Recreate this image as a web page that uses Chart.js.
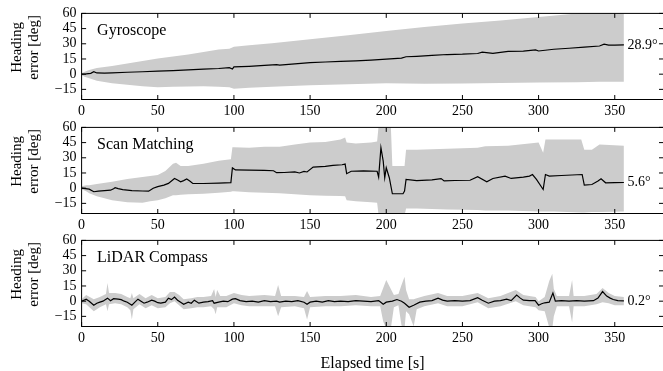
<!DOCTYPE html>
<html>
<head>
<meta charset="utf-8">
<script src="https://cdn.jsdelivr.net/npm/chart.js@4.4.1/dist/chart.umd.min.js"></script>
<style>
  body { margin: 0; background: #fff; width: 663px; height: 371px; overflow: hidden; position: relative; }
  .panel { position: absolute; left: 0; }
</style>
</head>
<body>
<div class="panel" style="top:0px"><canvas id="p0" width="668" height="120"></canvas></div>
<div class="panel" style="top:113.7px"><canvas id="p1" width="668" height="120"></canvas></div>
<div class="panel" style="top:227px"><canvas id="p2" width="668" height="148"></canvas></div>
<script>
// axes
const xTicks = [0, 50, 100, 150, 200, 250, 300, 350];
const yTicks = [-15, 0, 15, 30, 45, 60];
const panelNames = ['Gyroscope', 'Scan Matching', 'LiDAR Compass'];
const endLabels = ['28.9°', '5.6°', '0.2°'];

// Gyroscope
const gyroT = [0, 3, 6, 8, 10, 15, 20, 30, 40, 50, 60, 70, 80, 90, 97, 99, 100, 110, 120, 128, 130, 140, 150, 160, 170, 180, 190, 200, 210, 213, 220, 230, 240, 250, 260, 263, 270, 280, 290, 298, 300, 310, 320, 330, 340, 343, 346, 350, 356];
const gyroMean = [0, 0.3, 0.8, 2.5, 1.2, 1.0, 1.3, 1.9, 2.4, 3.0, 3.5, 4.2, 4.9, 5.6, 6.4, 5.0, 7.2, 7.8, 8.6, 9.5, 8.9, 10.2, 11.5, 12.0, 12.6, 13.2, 13.9, 14.8, 15.8, 17.2, 17.6, 18.5, 19.4, 19.7, 20.4, 21.8, 20.6, 22.5, 22.8, 23.9, 22.9, 24.6, 25.6, 26.8, 27.8, 29.6, 28.6, 28.7, 28.9];
const gyroBandT = [0, 2, 5, 10, 20, 30, 40, 50, 60, 70, 80, 90, 97, 100, 110, 125, 150, 175, 200, 225, 250, 275, 300, 325, 340, 356];
const gyroHi = [1, 2.5, 4, 6, 8, 10.5, 13, 15.4, 17.5, 19.5, 22, 24.3, 25, 27, 28.5, 30.5, 34.5, 38.5, 42.6, 46.5, 50, 53, 56.5, 60, 62, 63];
const gyroLo = [-1, -2.5, -4, -6.5, -9, -10.5, -12, -13, -12.5, -12.2, -11.8, -12.5, -13, -14.5, -13.5, -12.5, -11, -10, -9, -9.5, -9.3, -8.8, -8.3, -8, -7.6, -7.5];

// Scan matching
const scanT = [0, 5, 8, 11, 15, 19, 21, 22, 24, 27, 33, 40, 44, 47, 50, 54, 57, 61, 63, 65, 67, 69, 71, 73, 80, 90, 98, 99, 101, 110, 120, 126, 128, 133, 140, 143, 146, 148, 152, 160, 165, 171, 173, 174, 177, 185, 194, 195, 196.5, 198, 199, 200, 202, 204, 211, 212, 213, 220, 230, 236, 238, 245, 255, 260, 266, 270, 278, 282, 290, 294, 296, 298.6, 303, 304.5, 307, 315, 328.6, 330, 335, 339, 341, 344, 350, 356];
const scanMean = [0, -1, -3.5, -3, -2.5, -2, -0.5, 0.5, -0.5, -1.5, -2.5, -2.8, -3, 0, 1.5, 3, 4.7, 9.6, 8, 6.3, 7.5, 9, 7, 4.7, 4.6, 5.0, 5.5, 20, 18, 17.8, 17.5, 17.2, 15.3, 15.5, 16, 15, 16.5, 16, 20.8, 21.5, 22.5, 23.1, 23.8, 14.3, 16.7, 17, 16.7, 10.9, 40, 26.7, 10.3, 20.2, 10.3, -5.5, -5.5, -2.9, 8.6, 7.5, 8.2, 9.5, 7.2, 7.6, 7.8, 11.3, 6.3, 9.6, 11.9, 9.6, 11, 11.9, 13.5, 8.6, -1.3, 13.5, 11.9, 12.5, 13.5, 3, 3.6, 7, 9.3, 5.3, 5.4, 5.6];
const scanBandT = [0, 3, 5, 10, 20, 30, 40, 45, 50, 55, 60, 62, 65, 70, 80, 90, 98, 99, 100, 110, 120, 130, 140, 150, 160, 170, 173, 174, 180, 190, 194, 195, 197, 200, 203, 204, 212, 213, 220, 240, 260, 265, 280, 300, 303, 304.5, 310, 328, 330, 335, 340, 356];
const scanHi = [2, 3, 3, 4, 6.3, 9, 11, 12, 13, 17, 24, 25, 22, 22, 24, 27, 28.5, 40.5, 40.5, 40, 41, 41, 43, 45, 45.5, 48, 50, 45, 44, 45, 46, 62, 62, 62, 62, 22, 22, 38, 38, 39, 40, 41.5, 42, 45, 35, 48, 48, 48, 38, 38, 43, 42];
const scanLo = [-1, -3, -5, -8, -12, -14, -14.5, -13, -12, -10, -7, -7, -6.5, -6, -5.5, -4.5, -3.5, -3, -3, -4, -4.5, -5, -6, -7, -7.5, -7.8, -8, -12, -13, -14, -14.5, -27, -27, -27, -27, -27, -27, -20, -20, -21, -21.5, -22, -22, -23, -23, -23, -23, -24, -24, -23.5, -23.5, -23];

// LiDAR compass
const lidarT = [0, 3, 5, 8, 10, 12, 14, 17, 19, 21, 24, 26, 28, 30, 33, 35, 37, 39, 41, 43, 46, 48, 50, 52, 55, 57, 59, 61, 63, 65, 67, 70, 72, 74, 77, 80, 83, 86, 87, 90, 93, 96, 99, 101, 104, 108, 112, 116, 120, 124, 128, 130, 134, 138, 142, 146, 148, 150, 154, 158, 162, 166, 170, 175, 180, 185, 190, 195, 196, 198, 200, 204, 207, 210, 212, 215, 218, 222, 226, 230, 234, 237, 240, 245, 250, 255, 260, 263, 267, 271, 275, 279, 282, 285.6, 288, 290, 294, 297.7, 300, 302, 304, 307, 309.4, 311, 315, 320, 325, 330, 336, 339, 342, 344.7, 347, 349, 352, 356];
const lidarMean = [0, 2, 0, -4, -2, -1, 0, 3, 0.5, 2.5, 2, 1.5, 0, -1, -4, -1, 2, 0, -2, -1, 1, 0, -1.5, -2, -1, 3, 1.5, 4, 1, -1, -3, -1, -2, 1, -2, -1, -0.5, 0.5, -2, -1, 0, -0.5, 2, 2.5, 0.5, -0.5, 0, -1, 0.5, -0.5, 0, -1, 0, -0.5, 0.5, -1, -3, -1, 0, -1, 0.5, -0.5, 0, -0.5, 0.5, 0, -0.5, 0.5, -0.5, -3, -1, 0, 1.6, 0, -2, -6, -4, -1, 0, 0.5, 3, 1, 0, 0.5, 0, 0.5, 3.5, 1, -2, 0, 0.5, 2, 0.5, 6, 3, 1, 0.5, 0.5, -4, -2.5, -1.6, -1, 8, 0, 0.5, 0, 0.5, 0, 0.5, 3, 9.5, 5, 3, 1.6, 0.5, 0.2];
const lidarBandT = [0, 3, 8, 12, 16, 17, 18, 22, 26, 30, 32, 33, 34, 38, 42, 46, 50, 55, 58, 61, 64, 67, 72, 76, 80, 85, 87, 88, 89, 91, 95, 100, 105, 110, 120, 127, 129, 131, 140, 146, 148, 150, 160, 170, 180, 190, 196, 198, 200, 203, 205, 208, 210, 212, 213, 215, 218, 220, 225, 234, 240, 250, 260, 267, 275, 285, 290, 298, 300, 304, 307, 309, 310, 312, 320, 322, 323, 330, 338, 342, 346, 350, 356];
const lidarHi = [2, 6, 2, 4, 7, 18, 8, 8, 7, 4, 3, 8, 3, 7, 3, 6, 3, 4, 9, 9, 6, 2, 3, 4, 4, 5, 12, 4, 11, 5, 5, 8, 6, 5, 6, 5, 16, 5, 5, 4, 10, 4, 5, 5, 6, 4, 5, 13, 21, 12, 6, 7, 16, 24, 11, 2, 2, 3, 5, 8, 5, 5, 8, 3, 5, 11, 6, 4, 0, 4, 20, 27, 12, 5, 5, 21, 5, 5, 7, 13, 8, 5, 4];
const lidarLo = [-2, -3, -10, -6, -3, -10, -3, -2, -3, -6, -9, -18, -8, -3, -7, -4, -7, -6, -2, 0, -4, -8, -7, -6, -6, -5, -8, -13, -6, -6, -6, -2, -4, -5, -5, -5, -15, -6, -5, -7, -18, -6, -5, -5, -4, -5, -5, -20, -27, -27, -6, -4, -24, -27, -10, -13, -25, -8, -5, -2, -5, -5, -1, -7, -5, 0, -4, -6, -9, -10, -26, -27, -15, -5, -5, -21, -5, -5, -3, -1, -2, -4, -4];

const FONT = "'Liberation Serif', 'Times New Roman', serif";

function pts(t, v) { return t.map((x, i) => ({ x: x, y: v[i] })); }
function minus(v) { return v < 0 ? '\u2212' + Math.abs(v) : String(v); }

// frame with inward ticks on all four sides, panel name, end value, y label
const framePlugin = {
  id: 'frame',
  afterDatasetsDraw(chart, args, opts) {
    const { ctx, chartArea: a, scales: { x, y } } = chart;
    ctx.save();
    ctx.strokeStyle = '#000';
    ctx.lineWidth = 1;
    ctx.strokeRect(a.left, a.top, a.right - a.left, a.bottom - a.top);
    const tl = 4.5;
    ctx.beginPath();
    xTicks.forEach(v => {
      const px = x.getPixelForValue(v);
      ctx.moveTo(px, a.bottom); ctx.lineTo(px, a.bottom - tl);
      ctx.moveTo(px, a.top); ctx.lineTo(px, a.top + tl);
    });
    yTicks.forEach(v => {
      const py = y.getPixelForValue(v);
      ctx.moveTo(a.left, py); ctx.lineTo(a.left + tl, py);
      ctx.moveTo(a.right, py); ctx.lineTo(a.right - tl, py);
    });
    ctx.stroke();

    ctx.fillStyle = '#000';
    ctx.font = '16px ' + FONT;
    ctx.textBaseline = 'alphabetic';
    ctx.textAlign = 'left';
    ctx.fillText(opts.name, a.left + 15.5, a.top + 22);

    ctx.font = '14px ' + FONT;
    ctx.textBaseline = 'middle';
    ctx.fillText(opts.endLabel, x.getPixelForValue(opts.endT) + 3.5, y.getPixelForValue(opts.endV));

    ctx.font = '15px ' + FONT;
    ctx.textAlign = 'center';
    ctx.textBaseline = 'alphabetic';
    const cy = a.top + 34;
    [['Heading', 20.5], ['error [deg]', 38]].forEach(([txt, bx]) => {
      ctx.save();
      ctx.translate(bx, cy);
      ctx.rotate(-Math.PI / 2);
      ctx.fillText(txt, 0, 0);
      ctx.restore();
    });
    ctx.restore();
  }
};

function makePanel(id, i, lineT, lineV, bandT, hi, lo, last) {
  const canvas = document.getElementById(id);
  const H = canvas.height;
  new Chart(canvas, {
    type: 'line',
    data: {
      datasets: [
        { data: pts(lineT, lineV), borderColor: '#000', borderWidth: 1.2, pointRadius: 0, fill: false, tension: 0 },
        { data: pts(bandT, hi), borderWidth: 0, borderColor: 'rgba(0,0,0,0)', pointRadius: 0, backgroundColor: '#cccccc', fill: '+1', tension: 0 },
        { data: pts(bandT, lo), borderWidth: 0, borderColor: 'rgba(0,0,0,0)', pointRadius: 0, fill: false, tension: 0 }
      ]
    },
    options: {
      responsive: false,
      animation: false,
      events: [],
      layout: { padding: { top: 13, left: 0, right: 4.5, bottom: 0 } },
      plugins: {
        legend: { display: false },
        tooltip: { enabled: false },
        frame: { name: panelNames[i], endLabel: endLabels[i], endT: lineT[lineT.length - 1], endV: lineV[lineV.length - 1] }
      },
      scales: {
        x: {
          type: 'linear', min: 0, max: 382,
          afterBuildTicks: s => { s.ticks = xTicks.map(v => ({ value: v })); },
          afterFit: s => { s.height = H - 13 - 86.5; },
          grid: { display: false, drawTicks: false },
          border: { display: false },
          ticks: { color: '#000', font: { family: FONT, size: 14 }, padding: 3, maxRotation: 0, autoSkip: false },
          title: { display: last, text: 'Elapsed time [s]', color: '#000', font: { family: FONT, size: 16 }, padding: { top: 0, bottom: 2 } }
        },
        y: {
          min: -25, max: 60,
          afterBuildTicks: s => { s.ticks = yTicks.map(v => ({ value: v })); },
          afterFit: s => { s.width = 81.6; },
          grid: { display: false, drawTicks: false },
          border: { display: false },
          ticks: { color: '#000', font: { family: FONT, size: 14 }, padding: 5, autoSkip: false, callback: v => minus(v) }
        }
      }
    },
    plugins: [framePlugin]
  });
}

makePanel('p0', 0, gyroT, gyroMean, gyroBandT, gyroHi, gyroLo, false);
makePanel('p1', 1, scanT, scanMean, scanBandT, scanHi, scanLo, false);
makePanel('p2', 2, lidarT, lidarMean, lidarBandT, lidarHi, lidarLo, true);
</script>
</body>
</html>
